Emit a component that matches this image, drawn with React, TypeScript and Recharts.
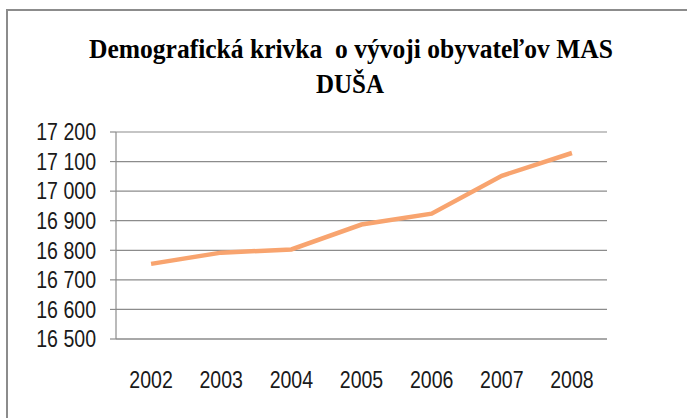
import React from 'react';
import { LineChart, Line, XAxis, YAxis, CartesianGrid } from 'recharts';

const years = ['2002', '2003', '2004', '2005', '2006', '2007', '2008'];
const population = [16754, 16792, 16803, 16887, 16924, 17052, 17129];
const yTicks = [16500, 16600, 16700, 16800, 16900, 17000, 17100, 17200];
const titleLine1 = 'Demografická krivka  o vývoji obyvateľov MAS';
const titleLine2 = 'DUŠA';

const data = years.map((year, i) => ({ year, pos: i + 0.5, value: population[i] }));
const boundaryTicks = years.map((_, i) => i).concat([years.length]);
const labelTicks = years.map((_, i) => i + 0.5);

const sansFont = '"Liberation Sans", Arial, sans-serif';
const serifFont = '"Liberation Serif", "Times New Roman", serif';
const gray = '#8c8c8c';
const textColor = '#1a1a1a';
const squeeze = 0.85;

const fmt = (v: number) => {
  const s = String(v);
  return s.slice(0, s.length - 3) + ' ' + s.slice(s.length - 3);
};

const YTick = (props: any) => {
  const { x, y, payload } = props;
  return (
    <g transform={`translate(${x},${y})`}>
      <text
        transform={`scale(${squeeze},1)`}
        textAnchor="end"
        dy="0.36em"
        fontFamily={sansFont}
        fontSize={23}
        fill={textColor}
        style={{ whiteSpace: 'pre' }}
      >
        {fmt(payload.value)}
      </text>
    </g>
  );
};

const XTick = (props: any) => {
  const { x, y, payload } = props;
  return (
    <g transform={`translate(${x},${y})`}>
      <text
        transform={`scale(${squeeze},1)`}
        textAnchor="middle"
        dy="0.71em"
        fontFamily={sansFont}
        fontSize={23}
        fill={textColor}
      >
        {years[Math.floor(payload.value)]}
      </text>
    </g>
  );
};

export default function App() {
  return (
    <div style={{ position: 'absolute', left: 0, top: 0, width: 687, height: 418, background: '#fff' }}>
      <div
        style={{
          position: 'absolute',
          left: 6,
          top: 9,
          width: 690,
          height: 420,
          borderLeft: `2px solid ${gray}`,
          borderTop: `2px solid ${gray}`,
          boxSizing: 'border-box',
        }}
      />
      <svg width={687} height={110} style={{ position: 'absolute', left: 0, top: 0 }}>
        <text
          x={351}
          y={58}
          textAnchor="middle"
          fontFamily={serifFont}
          fontWeight="bold"
          fontSize={27}
          fill="#000"
          textLength={524}
          lengthAdjust="spacingAndGlyphs"
          style={{ whiteSpace: 'pre' }}
        >
          {titleLine1}
        </text>
        <text
          x={350}
          y={93}
          textAnchor="middle"
          fontFamily={serifFont}
          fontWeight="bold"
          fontSize={27}
          fill="#000"
          textLength={68}
          lengthAdjust="spacingAndGlyphs"
        >
          {titleLine2}
        </text>
      </svg>
      <div style={{ position: 'absolute', left: 0, top: 0 }}>
        <LineChart width={687} height={418} data={data} margin={{ top: 132, right: 80, bottom: 18, left: 0 }}>
          <CartesianGrid xAxisId="grid" vertical={false} stroke={gray} strokeWidth={1.2} />
          <XAxis
            xAxisId="grid"
            type="number"
            dataKey="pos"
            domain={[0, years.length]}
            ticks={boundaryTicks}
            tick={false}
            tickSize={9}
            height={1}
            axisLine={{ stroke: gray, strokeWidth: 1.2 }}
            tickLine={{ stroke: gray, strokeWidth: 1.2 }}
            allowDataOverflow
          />
          <XAxis
            xAxisId="labels"
            type="number"
            dataKey="pos"
            domain={[0, years.length]}
            ticks={labelTicks}
            height={60}
            axisLine={false}
            tickLine={false}
            tickSize={6}
            tickMargin={26}
            tick={<XTick />}
            interval={0}
            allowDataOverflow
          />
          <YAxis
            type="number"
            domain={[16500, 17200]}
            ticks={yTicks}
            width={116}
            tickSize={6}
            tickMargin={14}
            axisLine={{ stroke: gray, strokeWidth: 1.2 }}
            tickLine={{ stroke: gray, strokeWidth: 1.2 }}
            tick={<YTick />}
            interval={0}
            allowDataOverflow
          />
          <Line
            xAxisId="grid"
            type="linear"
            dataKey="value"
            stroke="#f8a46f"
            strokeWidth={4.5}
            dot={false}
            isAnimationActive={false}
          />
        </LineChart>
      </div>
    </div>
  );
}
